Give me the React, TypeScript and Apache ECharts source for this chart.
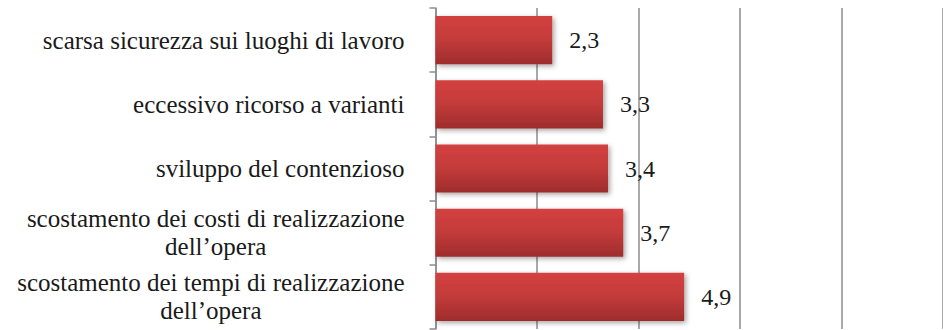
import React, { useEffect, useRef } from "react";
import * as echarts from "echarts";

const categories = [
  "scarsa sicurezza sui luoghi di lavoro",
  "eccessivo ricorso a varianti",
  "sviluppo del contenzioso",
  "scostamento dei costi di realizzazione\ndell’opera",
  "scostamento dei tempi di realizzazione\ndell’opera",
];
const values = [2.3, 3.3, 3.4, 3.7, 4.9];
const axisMin = 0;
const axisMax = 10;
const axisInterval = 2;

export default function App() {
  const ref = useRef<HTMLDivElement>(null);
  useEffect(() => {
    if (!ref.current) return;
    const chart = echarts.init(ref.current, null, { renderer: "svg" });
    const font = "Liberation Serif";
    const gridColor = "#8c8c8c";
    chart.setOption({
      animation: false,
      backgroundColor: "#ffffff",
      textStyle: { fontFamily: font },
      grid: { left: 435.5, top: 8, width: 513, height: 321, containLabel: false },
      xAxis: {
        type: "value",
        min: axisMin,
        max: axisMax,
        interval: axisInterval,
        axisLine: { show: false },
        axisTick: { show: false },
        axisLabel: { show: false },
        splitLine: { show: true, lineStyle: { color: gridColor, width: 1.5 } },
      },
      yAxis: {
        type: "category",
        inverse: true,
        data: categories,
        axisLine: { show: true, lineStyle: { color: gridColor, width: 1.5 } },
        axisTick: { show: true, length: 6, lineStyle: { color: gridColor, width: 1.5 } },
        axisLabel: {
          margin: 31,
          fontFamily: font,
          fontSize: 25,
          color: "#1a1a1a",
          lineHeight: 28,
          formatter: (v: string) =>
            v
              .split("\n")
              .map((l) => `{c|${l}}`)
              .join("\n"),
          rich: {
            c: { align: "center", fontFamily: font, fontSize: 25, color: "#1a1a1a", lineHeight: 28 },
          },
        },
      },
      series: [
        {
          type: "bar",
          data: values,
          barCategoryGap: "25%",
          itemStyle: {
            color: new echarts.graphic.LinearGradient(0, 0, 0, 1, [
              { offset: 0, color: "#d34140" },
              { offset: 0.5, color: "#c33b3a" },
              { offset: 1, color: "#9e2c2c" },
            ]),
            shadowColor: "rgba(0,0,0,0.35)",
            shadowBlur: 5,
            shadowOffsetX: 2,
            shadowOffsetY: 2,
          },
          label: {
            show: true,
            position: "right",
            distance: 17,
            fontFamily: font,
            fontSize: 24,
            color: "#1a1a1a",
            formatter: (p: any) => String(p.value).replace(".", ","),
          },
        },
      ],
    });
    return () => chart.dispose();
  }, []);
  return (
    <div
      ref={ref}
      style={{ position: "fixed", left: 0, top: 0, width: 943, height: 330, background: "#fff" }}
    />
  );
}
